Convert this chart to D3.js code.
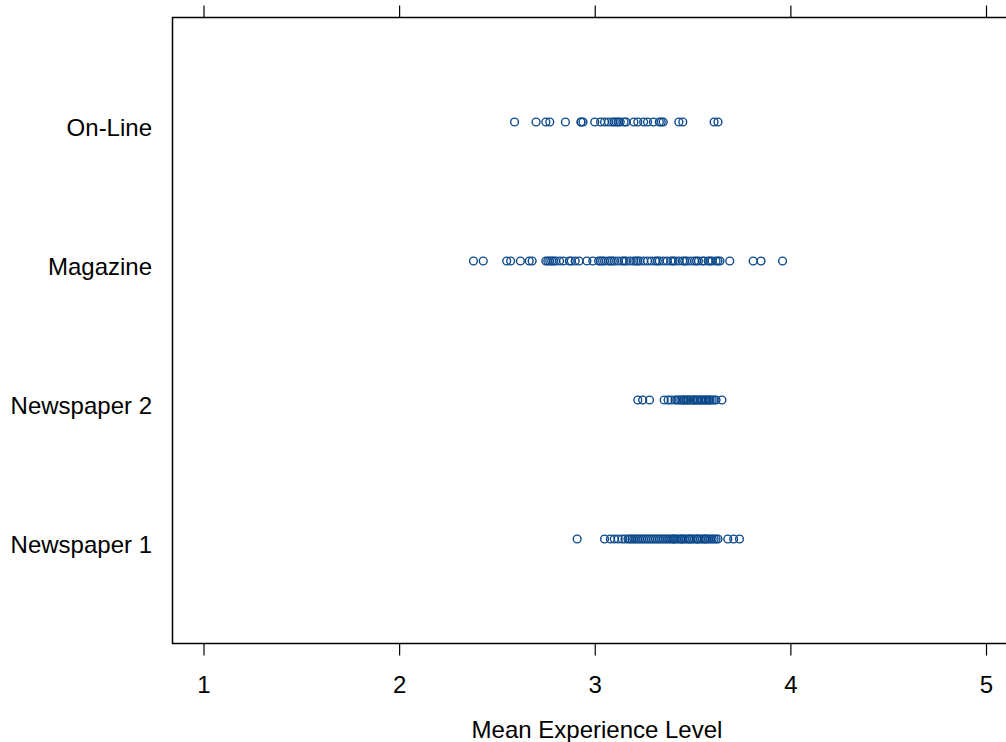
<!DOCTYPE html>
<html>
<head>
<meta charset="utf-8">
<script src="https://cdn.jsdelivr.net/npm/d3@7"></script>
<style>
  html, body { margin: 0; padding: 0; background: #fff; }
  svg { display: block; }
  text { font-family: Arial, "Liberation Sans", sans-serif; fill: #000; }
</style>
</head>
<body>
<svg id="chart" width="1006" height="742"></svg>
<script>
const categories = ["On-Line", "Magazine", "Newspaper 2", "Newspaper 1"];
const xTicks = [1, 2, 3, 4, 5];
const xTitle = "Mean Experience Level";

const onlineVals = [2.59, 2.70, 2.75, 2.77, 2.85, 2.93, 2.93, 2.94, 3.00, 3.03, 3.05, 3.07, 3.09, 3.10, 3.11, 3.12, 3.13, 3.15, 3.16, 3.20, 3.22, 3.25, 3.27, 3.30, 3.33, 3.34, 3.35, 3.43, 3.45, 3.61, 3.63];
const magazineVals = [2.38, 2.43, 2.55, 2.57, 2.62, 2.665, 2.68, 2.75, 2.76, 2.77, 2.78, 2.79, 2.80, 2.82, 2.84, 2.87, 2.88, 2.90, 2.92, 2.96, 2.99, 3.02, 3.03, 3.04, 3.05, 3.07, 3.08, 3.09, 3.10, 3.12, 3.14, 3.15, 3.16, 3.18, 3.20, 3.21, 3.22, 3.23, 3.25, 3.27, 3.29, 3.31, 3.32, 3.33, 3.35, 3.37, 3.39, 3.40, 3.41, 3.43, 3.45, 3.46, 3.47, 3.49, 3.51, 3.52, 3.53, 3.55, 3.56, 3.58, 3.59, 3.60, 3.62, 3.63, 3.64, 3.69, 3.81, 3.85, 3.96];
const newspaper2Vals = [3.22, 3.245, 3.28, 3.355, 3.375, 3.39, 3.41, 3.42, 3.43, 3.44, 3.45, 3.455, 3.46, 3.47, 3.475, 3.48, 3.49, 3.50, 3.505, 3.51, 3.52, 3.525, 3.53, 3.54, 3.545, 3.55, 3.56, 3.565, 3.57, 3.58, 3.585, 3.59, 3.60, 3.61, 3.62, 3.65];
const newspaper1Vals = [2.91, 3.05, 3.08, 3.10, 3.12, 3.14, 3.155, 3.17, 3.18, 3.19, 3.20, 3.21, 3.22, 3.23, 3.24, 3.25, 3.26, 3.27, 3.28, 3.29, 3.30, 3.31, 3.32, 3.33, 3.34, 3.35, 3.36, 3.37, 3.38, 3.39, 3.40, 3.405, 3.41, 3.42, 3.43, 3.44, 3.445, 3.45, 3.46, 3.47, 3.48, 3.485, 3.49, 3.50, 3.51, 3.52, 3.525, 3.53, 3.54, 3.55, 3.56, 3.565, 3.57, 3.58, 3.59, 3.60, 3.61, 3.62, 3.63, 3.68, 3.71, 3.74];

const seriesByCategory = {
  "On-Line": onlineVals,
  "Magazine": magazineVals,
  "Newspaper 2": newspaper2Vals,
  "Newspaper 1": newspaper1Vals
};

const svg = d3.select("#chart");
const frame = { left: 172.5, top: 17.5, right: 1030, bottom: 643.5 };

const x = d3.scaleLinear().domain([1, 5]).range([203.5, 986]);
const y = d3.scalePoint().domain(categories).range([frame.top, frame.bottom]).padding(0.752);

// frame (left, top, bottom; right side runs off the page)
svg.append("path")
  .attr("d", `M${frame.right},${frame.top}H${frame.left}V${frame.bottom}H${frame.right}`)
  .attr("fill", "none").attr("stroke", "#000").attr("stroke-width", 1.5);

// bottom axis
const bottomAxis = d3.axisBottom(x).tickValues(xTicks).tickSize(12).tickPadding(20).tickFormat(d3.format("d"));
const gb = svg.append("g").attr("transform", `translate(0,${frame.bottom})`).call(bottomAxis);
gb.select(".domain").remove();
gb.selectAll(".tick line").attr("stroke", "#000").attr("stroke-width", 1.2);
gb.selectAll(".tick text").style("font-size", "24px").style("font-family", "Arial, 'Liberation Sans', sans-serif").attr("fill", "#000");

// top axis (ticks only)
const topAxis = d3.axisTop(x).tickValues(xTicks).tickSize(12).tickFormat("");
const gt = svg.append("g").attr("transform", `translate(0,${frame.top})`).call(topAxis);
gt.select(".domain").remove();
gt.selectAll(".tick line").attr("stroke", "#000").attr("stroke-width", 1.2);

// category labels
svg.append("g").selectAll("text")
  .data(categories).join("text")
  .attr("x", 152)
  .attr("y", d => y(d) + 14)
  .attr("text-anchor", "end")
  .style("font-size", "24px")
  .text(d => d);

// x title
svg.append("text")
  .attr("x", 597)
  .attr("y", 737.5)
  .attr("text-anchor", "middle")
  .style("font-size", "24px")
  .text(xTitle);

// points
const pts = [];
categories.forEach(c => seriesByCategory[c].forEach(v => pts.push({ c, v })));
svg.append("g").selectAll("circle")
  .data(pts).join("circle")
  .attr("cx", d => x(d.v))
  .attr("cy", d => y(d.c))
  .attr("r", 3.9)
  .attr("fill", "none")
  .attr("stroke", "#0d4a8c")
  .attr("stroke-width", 1.4);
</script>
</body>
</html>
